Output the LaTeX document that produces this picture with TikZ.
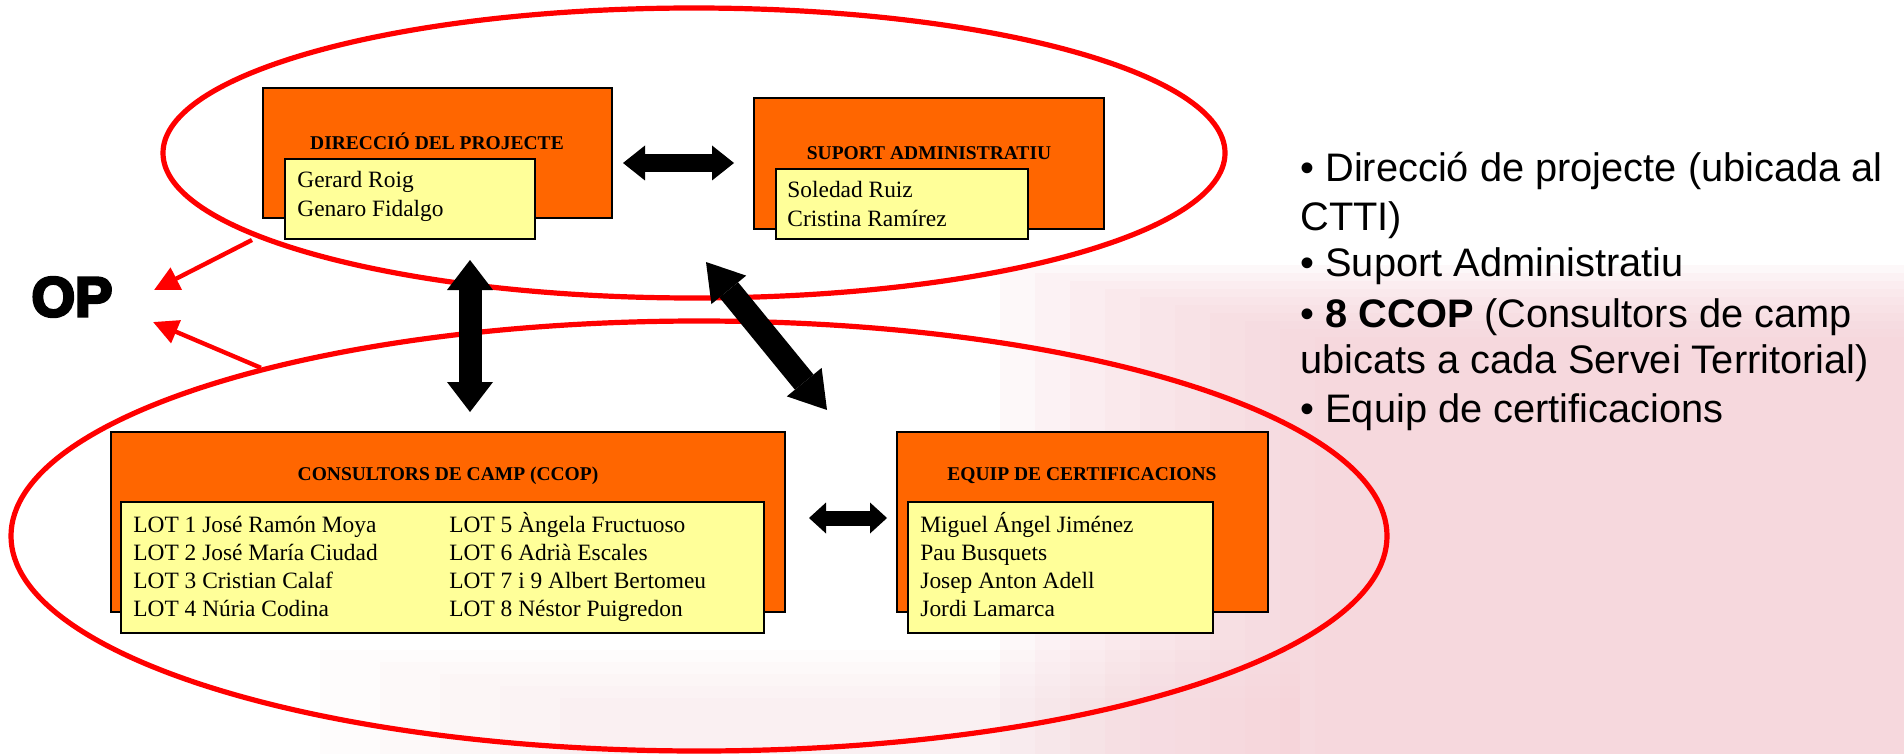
\documentclass[tikz,border=0pt]{standalone}
\usepackage{fontspec}
\setmainfont{Liberation Serif}
\newfontfamily\arialfont{Liberation Sans}
\newfontfamily\opfont{Liberation Sans}[FakeBold=5]
\usetikzlibrary{arrows.meta,shapes.geometric}
\definecolor{boxorange}{RGB}{255,102,0}
\definecolor{boxyellow}{RGB}{255,255,153}
\definecolor{ringred}{RGB}{255,0,0}
\definecolor{pinkbg}{RGB}{246,205,212}
\begin{document}
\begin{tikzpicture}[x=0.5pt,y=-0.5pt,
  obox/.style={draw=black, line width=1pt, fill=boxorange, inner sep=0pt},
  ybox/.style={draw=black, line width=1pt, fill=boxyellow, inner sep=0pt},
  boxtitle/.style={font=\fontsize{9.75}{11}\selectfont\bfseries, inner sep=0pt, anchor=base},
  names/.style={font=\fontsize{11.7}{14}\selectfont, inner sep=0pt, anchor=base west},
  side/.style={font=\arialfont\fontsize{19.9}{24}\selectfont, inner sep=0pt, anchor=base west},
  ring/.style={draw=ringred, line width=2.6pt, ellipse, inner sep=0pt},
  redarrow/.style={draw=ringred, line width=2.2pt, -{Triangle[length=12.5pt,width=12pt]}},
  tint/.style={fill=pinkbg, fill opacity=0.12, draw=none},
  blockarrow/.style n args={3}{draw=black, line width=#1,
     arrows={Triangle[length=#2,width=#3,line width'=0pt]-Triangle[length=#2,width=#3,line width'=0pt]}}
]
\useasboundingbox (0,0) rectangle (1904,754);
\fill[white] (0,0) rectangle (1904,754);
% faint background tint (soft-edged by layering)
\foreach \k in {0,...,9} {
  \fill[tint] (1000+35*\k,265+8*\k) rectangle (1904,754);
}
\foreach \k in {0,...,4} {
  \fill[tint, fill opacity=0.06] (320+60*\k,650+12*\k) rectangle (1300,754);
}

% rings
\node[ring, minimum width=531pt, minimum height=145pt] (upring) at (694,153) {};
\node[ring, minimum width=688pt, minimum height=215pt] (lowring) at (699,536) {};

% Direccio del projecte
\node[obox, minimum width=174.5pt, minimum height=65pt] (dp) at (437.5,153) {};
\node[boxtitle] (dpt) at (437,150) {DIRECCIÓ DEL PROJECTE};
\node[ybox, minimum width=125pt, minimum height=40pt] (dpy) at (410,199) {};
\node[names] (dp1) at (297,188) {Gerard Roig};
\node[names] (dp2) at (297,217) {Genaro Fidalgo};

% Suport administratiu
\node[obox, minimum width=175pt, minimum height=65.5pt] (sa) at (929,163.5) {};
\node[boxtitle] (sat) at (929,160) {SUPORT ADMINISTRATIU};
\node[ybox, minimum width=126pt, minimum height=35pt] (say) at (902,204) {};
\node[names] (sa1) at (787,198) {Soledad Ruiz};
\node[names] (sa2) at (787,227) {Cristina Ramírez};

% Consultors de camp
\node[obox, minimum width=337pt, minimum height=90pt] (cc) at (448,522) {};
\node[boxtitle] (cct) at (448,480) {CONSULTORS DE CAMP (CCOP)};
\node[ybox, minimum width=321.5pt, minimum height=65.5pt] (ccy) at (442.5,567.5) {};
\node[names] (c1) at (133,532) {LOT 1 José Ramón Moya};
\node[names] (c2) at (133,560) {LOT 2 José María Ciudad};
\node[names] (c3) at (133,588) {LOT 3 Cristian Calaf};
\node[names] (c4) at (133,616) {LOT 4 Núria Codina};
\node[names] (c5) at (449,532) {LOT 5 Àngela Fructuoso};
\node[names] (c6) at (449,560) {LOT 6 Adrià Escales};
\node[names] (c7) at (449,588) {LOT 7 i 9 Albert Bertomeu};
\node[names] (c8) at (449,616) {LOT 8 Néstor Puigredon};

% Equip de certificacions
\node[obox, minimum width=185.5pt, minimum height=90pt] (ec) at (1082.5,522) {};
\node[boxtitle] (ect) at (1082,480) {EQUIP DE CERTIFICACIONS};
\node[ybox, minimum width=152.5pt, minimum height=65.5pt] (ecy) at (1060.5,567.5) {};
\node[names] (e1) at (920,532) {Miguel Ángel Jiménez};
\node[names] (e2) at (920,560) {Pau Busquets};
\node[names] (e3) at (920,588) {Josep Anton Adell};
\node[names] (e4) at (920,616) {Jordi Lamarca};

% OP
\node[font=\opfont\bfseries\fontsize{28}{30}\selectfont, inner sep=0pt] (op) at (72,297) {OP};

% red arrows to OP
\coordinate (r1s) at (252,240);
\coordinate (r1e) at (154,290);
\coordinate (r2e) at (153,322);
\draw[redarrow] (r1s) -- (r1e);
\draw[redarrow] (lowring.159.6) -- (r2e);

% black block arrows
\coordinate (a1s) at (623,163);
\coordinate (a1e) at (734,163);
\coordinate (a2s) at (470,260);
\coordinate (a2e) at (470,412);
\coordinate (a3s) at (706,262);
\coordinate (a3e) at (827,410);
\coordinate (a4s) at (809,518);
\coordinate (a4e) at (887,518);
\draw[blockarrow={9pt}{11pt}{17.5pt}] (a1s) -- (a1e);
\draw[blockarrow={11.5pt}{15pt}{23pt}] (a2s) -- (a2e);
\draw[blockarrow={12pt}{18pt}{22.5pt}] (a3s) -- (a3e);
\draw[blockarrow={7.5pt}{8.5pt}{15.5pt}] (a4s) -- (a4e);

% side text
\node[side] (s1) at (1300,182) {• Direcció de projecte (ubicada al};
\node[side] (s2) at (1300,230) {CTTI)};
\node[side] (s3) at (1300,277) {• Suport Administratiu};
\node[side] (s4) at (1300,327) {• \textbf{8 CCOP} (Consultors de camp};
\node[side] (s5) at (1300,373) {ubicats a cada Servei Territorial)};
\node[side] (s6) at (1300,422) {• Equip de certificacions};
\end{tikzpicture}
\end{document}
